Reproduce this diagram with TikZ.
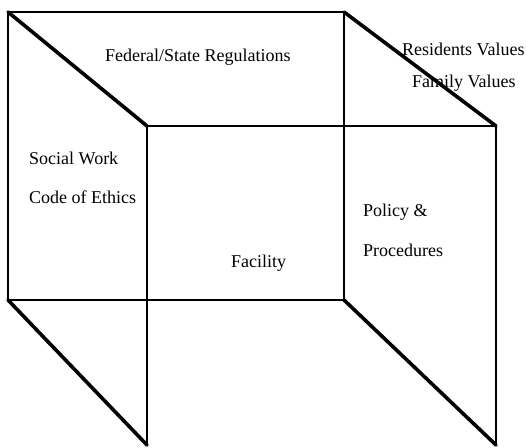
\documentclass[tikz,border=0pt]{standalone}
\usepackage{fontspec}
\setmainfont{Liberation Serif}
\begin{document}
\begin{tikzpicture}[x=1pt,y=-1pt,
  edge/.style={line width=2.2pt,line cap=round,line join=round},
  slant/.style={line width=3.6pt,line cap=round},
  lbl/.style={inner sep=0pt,anchor=west,font=\fontsize{18}{21}\selectfont}]
\useasboundingbox (0,0) rectangle (526,447);
% back frame corners
\coordinate (btl) at (8,12);
\coordinate (btr) at (344,12);
\coordinate (bbr) at (344,300);
\coordinate (bbl) at (8,300);
% front frame corners
\coordinate (ftl) at (147,126);
\coordinate (ftr) at (496,126);
\coordinate (fbr) at (496,445);
\coordinate (fbl) at (147,445);
% back rectangle
\draw[edge] (btl) -- (btr) -- (bbr) -- (bbl) -- cycle;
% front frame, open at the bottom
\draw[edge] (fbl) -- (ftl) -- (ftr) -- (fbr);
% receding edges
\draw[slant] (btl) -- (ftl);
\draw[slant] (btr) -- (ftr);
\draw[slant] (bbl) -- (fbl);
\draw[slant] (bbr) -- (fbr);
% labels
\node[lbl] (fed) at (105,57) {Federal/State Regulations};
\node[lbl] (res) at (402,49) {Residents Values};
\node[lbl] (fam) at (412,83) {Family Values};
\node[lbl] (sw) at (29,158) {Social Work};
\node[lbl] (code) at (29,197) {Code of Ethics};
\node[lbl] (pol) at (363,212) {Policy \&};
\node[lbl] (proc) at (363,250) {Procedures};
\node[lbl] (fac) at (231,263) {Facility};
\end{tikzpicture}
\end{document}
